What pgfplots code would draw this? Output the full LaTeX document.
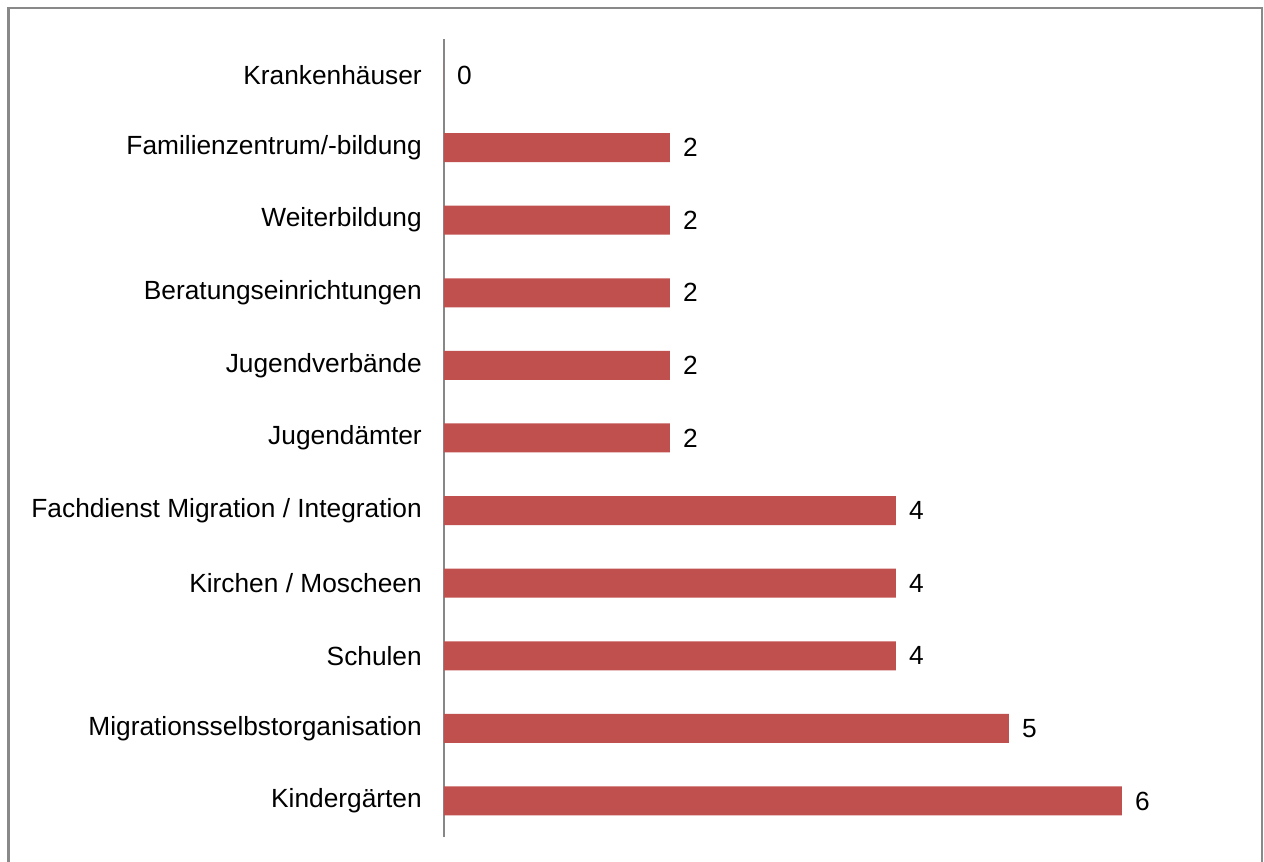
\documentclass[border=0pt]{standalone}
\usepackage{pgfplots}
\pgfplotsset{compat=1.18}
\usepackage{fontspec}
\setmainfont{Liberation Sans}
\definecolor{barred}{HTML}{C0504D}
\definecolor{framegray}{HTML}{898989}
\definecolor{axgray}{HTML}{878787}
\begin{document}
\begin{tikzpicture}
\useasboundingbox (0,0) rectangle (632bp,431bp);
\draw[framegray, line width=1.2bp] (4.25bp,-1bp) -- (4.25bp,427bp) -- (631bp,427bp) -- (631bp,-1bp);
\begin{axis}[
  at={(222bp,12.35bp)}, anchor=south west,
  scale only axis,
  width=367.25bp, height=399.3bp,
  xmin=0, xmax=6.5,
  ymin=-0.5, ymax=10.5,
  xbar, bar width=14.5bp,
  axis x line=none,
  axis y line=left,
  y axis line style={-, draw=axgray, line width=0.6bp},
  ytick={0,...,10},
  yticklabels={Kindergärten,Migrationsselbstorganisation,Schulen,Kirchen / Moscheen,Fachdienst Migration / Integration,Jugendämter,Jugendverbände,Beratungseinrichtungen,Weiterbildung,Familienzentrum/-bildung,Krankenhäuser},
  major tick length=0pt,
  yticklabel style={font=\fontsize{13.2}{15}\selectfont, xshift=-7.6bp},
  nodes near coords,
  every node near coord/.append style={font=\fontsize{13.2}{15}\selectfont, xshift=3bp},
  /pgf/number format/assume math mode=true,
  clip=false,
]
\addplot[fill=barred, draw=none] coordinates {
(6,0) (5,1) (4,2) (4,3) (4,4) (2,5) (2,6) (2,7) (2,8) (2,9) (0,10)
};
\end{axis}
\end{tikzpicture}
\end{document}
